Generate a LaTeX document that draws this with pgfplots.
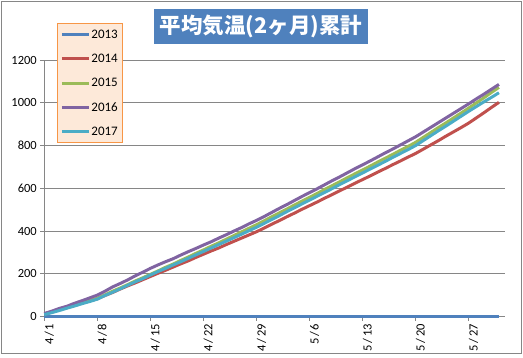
\documentclass[border=0pt]{standalone}
\usepackage{pgfplots}
\pgfplotsset{compat=1.18}
\usepackage{pgfplotstable}
\usetikzlibrary{calc}
\usepackage{fontspec}
\setmainfont{Carlito}
\newfontfamily\cjk{Noto Sans CJK JP}
\definecolor{titleblue}{HTML}{4F81BD}
\definecolor{legendfill}{HTML}{FDE9D9}
\definecolor{legenddraw}{HTML}{F79646}
\definecolor{gridgray}{HTML}{868686}
\definecolor{cA}{HTML}{4F81BD}
\definecolor{cB}{HTML}{C0504D}
\definecolor{cC}{HTML}{9BBB59}
\definecolor{cD}{HTML}{8064A2}
\definecolor{cE}{HTML}{4BACC6}
\pgfplotstableread{
day y2013 y2014 y2015 y2016 y2017
0 0 12 12 15 10
1 0 22 22 26 19
2 0 33 33 39 29
3 0 43 42 49 40
4 0 54 54 63 50
5 0 64 64 75 61
6 0 74 75 88 71
7 0 84 86 101 82
8 0 99 102 119 99
9 0 113 119 139 114
10 0 129 134 155 130
11 0 144 150 172 147
12 0 158 167 191 163
13 0 173 182 208 178
14 0 188 198 226 195
15 0 203 214 242 211
16 0 217 231 257 226
17 0 232 246 271 242
18 0 247 263 288 257
19 0 261 279 304 273
20 0 277 296 319 289
21 0 292 312 335 305
22 0 307 329 350 321
23 0 321 345 367 337
24 0 337 362 383 353
25 0 352 379 400 369
26 0 367 396 416 385
27 0 382 413 434 402
28 0 397 430 450 418
29 0 414 448 468 436
30 0 432 467 487 454
31 0 449 485 506 472
32 0 467 503 524 491
33 0 484 522 543 509
34 0 502 540 562 527
35 0 519 558 580 545
36 0 536 576 598 563
37 0 554 595 617 581
38 0 571 613 636 599
39 0 589 631 654 618
40 0 606 650 673 636
41 0 624 668 692 654
42 0 641 686 710 672
43 0 658 704 728 690
44 0 676 723 747 708
45 0 693 741 766 726
46 0 711 759 784 745
47 0 728 778 803 763
48 0 746 796 822 781
49 0 763 815 841 800
50 0 783 838 863 823
51 0 803 861 885 846
52 0 823 884 907 869
53 0 844 906 929 891
54 0 864 929 951 914
55 0 884 952 973 937
56 0 905 975 995 960
57 0 929 999 1018 982
58 0 953 1023 1040 1004
59 0 978 1048 1063 1025
60 0 1002 1072 1086 1047
}\data
\begin{document}
\begin{tikzpicture}
\begin{axis}[
  scale only axis, width=460.7pt, height=256.7pt,
  xmin=0, xmax=60.8, ymin=0, ymax=1200,
  clip=false,
  axis lines*=left,
  axis line style={gridgray, line width=1pt},
  ymajorgrids, grid style={gridgray, line width=1pt},
  ytick={0,200,...,1200},
  xtick={0,7,14,21,28,35,42,49,56},
  xticklabels={4\kern1.5pt/\kern1.5pt1,4\kern1.5pt/\kern1.5pt8,4\kern1.5pt/\kern1.5pt15,4\kern1.5pt/\kern1.5pt22,4\kern1.5pt/\kern1.5pt29,5\kern1.5pt/\kern1.5pt6,5\kern1.5pt/\kern1.5pt13,5\kern1.5pt/\kern1.5pt20,5\kern1.5pt/\kern1.5pt27},
  tick align=outside, major tick length=4pt,
  tick style={gridgray, line width=1pt},
  /pgf/number format/assume math mode=true,
  /pgf/number format/1000 sep={},
  ticklabel style={font=\fontsize{12.5}{13}\selectfont, text=black},
  xticklabel style={xshift=5pt, rotate=90, anchor=east},
  legend style={at={(rel axis cs:0.027,1.143)}, anchor=north west,
    fill=legendfill, draw=legenddraw, line width=0.8pt,
    font=\fontsize{13}{13}\selectfont,
    inner xsep=3.3pt, inner ysep=6.5pt,
    nodes={inner xsep=1pt, inner ysep=0pt, text height=8pt, text depth=1pt},
    row sep=15.3pt},
  legend cell align=left,
  legend image code/.code={\draw[#1, line width=3pt] (0pt,0pt) -- (27pt,0pt);},
]
\addplot[cA, line width=3pt, line join=round] table[x=day,y=y2013]{\data};
\addlegendentry{2013}
\addplot[cB, line width=3pt, line join=round] table[x=day,y=y2014]{\data};
\addlegendentry{2014}
\addplot[cC, line width=3pt, line join=round] table[x=day,y=y2015]{\data};
\addlegendentry{2015}
\addplot[cD, line width=3pt, line join=round] table[x=day,y=y2016]{\data};
\addlegendentry{2016}
\addplot[cE, line width=3pt, line join=round] table[x=day,y=y2017]{\data};
\addlegendentry{2017}
\coordinate (bl) at (rel axis cs:0,0);
\end{axis}
\draw[gridgray, line width=1pt] ($(bl)+(-42.6pt,-36.6pt)$) rectangle ($(bl)+(476.7pt,315pt)$);
\node[fill=titleblue, minimum width=214pt, minimum height=35pt, inner sep=0pt,
  text=white, font=\cjk\bfseries\fontsize{21.5}{22}\selectfont] at ($(bl)+(216.7pt,290.2pt)$) {平均気温(2ヶ月)累計};
\pgfresetboundingbox
\useasboundingbox ($(bl)+(-44.3pt,-40.3pt)$) rectangle ($(bl)+(478.7pt,316.7pt)$);
\end{tikzpicture}
\end{document}
